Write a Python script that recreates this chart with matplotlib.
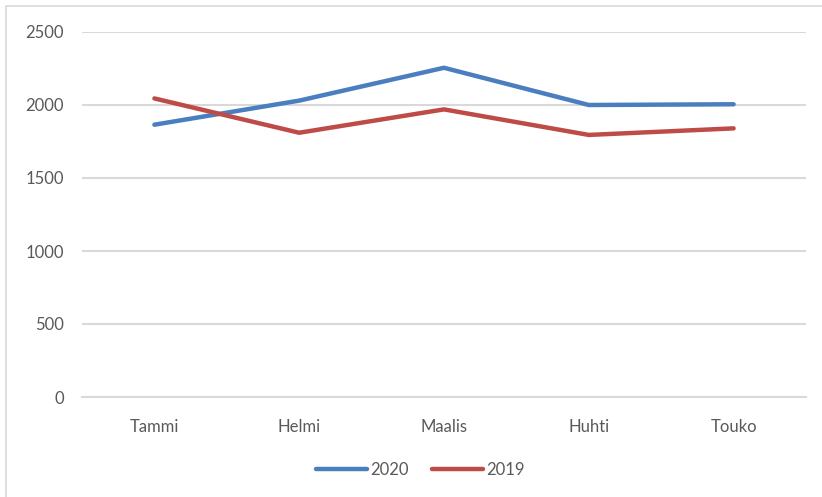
import matplotlib.pyplot as plt
import matplotlib.patches as patches

# kuukaudet ja sarjat
kuukaudet = ["Tammi", "Helmi", "Maalis", "Huhti", "Touko"]
arvot_2020 = [1865, 2030, 2255, 2000, 2005]
arvot_2019 = [2045, 1810, 1970, 1795, 1840]

plt.rcParams['font.family'] = ['Lato', 'DejaVu Sans']
harmaa_teksti = '#595959'
ruudukko = '#D9D9D9'

fig = plt.figure(figsize=(8.22, 4.97), dpi=100)
ax = fig.add_axes([82/822, 1 - 397/497, (806 - 82)/822, (397 - 32)/497])

x = range(len(kuukaudet))
ax.plot(x, arvot_2020, color='#4A7EBF', linewidth=3.2, label='2020',
        solid_capstyle='round', solid_joinstyle='round')
ax.plot(x, arvot_2019, color='#BE4B48', linewidth=3.2, label='2019',
        solid_capstyle='round', solid_joinstyle='round')

ax.set_xlim(-0.5, len(kuukaudet) - 0.5)
ax.set_ylim(0, 2500)
ax.set_yticks(range(0, 2501, 500))
ax.set_xticks(list(x))
ax.set_xticklabels(kuukaudet)

ax.grid(axis='y', color=ruudukko, linewidth=1.5)
ax.set_axisbelow(True)
for s in ['top', 'right', 'left']:
    ax.spines[s].set_visible(False)
ax.spines['bottom'].set_color(ruudukko)
ax.spines['bottom'].set_linewidth(1.5)
ax.tick_params(axis='both', length=0, labelsize=12, labelcolor=harmaa_teksti)
ax.tick_params(axis='y', pad=13)
ax.tick_params(axis='x', pad=16)

leg = fig.legend(loc='center', bbox_to_anchor=(420/822, 1 - 470/497), ncol=2,
                 frameon=False, fontsize=12, handlelength=3.1, handletextpad=0.15,
                 columnspacing=1.4)
for t in leg.get_texts():
    t.set_color(harmaa_teksti)

# kehys kaavion ympärillä
fig.patches.append(patches.Rectangle((6/822, -0.1), 2, 1 - 6/497 + 0.1,
                                     transform=fig.transFigure, fill=False,
                                     edgecolor=ruudukko, linewidth=1.2))

fig.savefig('out.png', dpi=100)
